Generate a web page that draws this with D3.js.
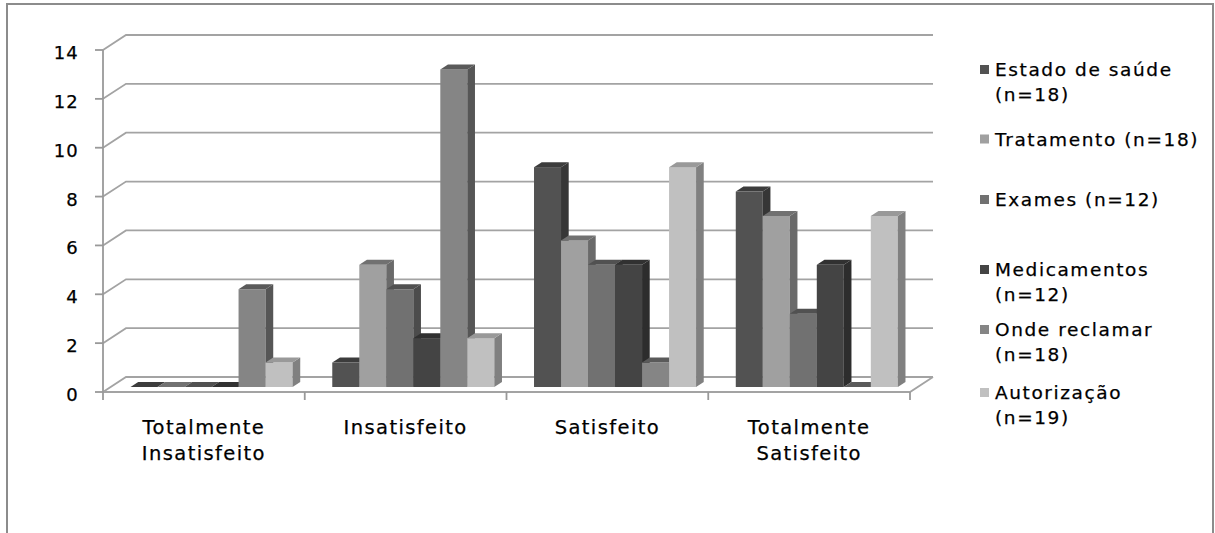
<!DOCTYPE html>
<html>
<head>
<meta charset="utf-8">
<script src="https://cdn.jsdelivr.net/npm/d3@7/dist/d3.min.js"></script>
<style>
  html, body { margin: 0; padding: 0; background: #fff; }
  svg { display: block; }
  text { font-family: "DejaVu Sans", sans-serif; fill: #000; stroke: #000; stroke-width: 0.25px; }
</style>
</head>
<body>
<svg id="chart" width="1215" height="533"></svg>
<script>
// Satisfaction levels (categories) and the six evaluated aspects (series)
const categories = ["Totalmente Insatisfeito", "Insatisfeito", "Satisfeito", "Totalmente Satisfeito"];
const categoryLines = [["Totalmente", "Insatisfeito"], ["Insatisfeito"], ["Satisfeito"], ["Totalmente", "Satisfeito"]];
const seriesNames = ["Estado de saúde", "Tratamento", "Exames", "Medicamentos", "Onde reclamar", "Autorização"];
const legendLines = [
  ["Estado de saúde", "(n=18)"],
  ["Tratamento (n=18)"],
  ["Exames (n=12)"],
  ["Medicamentos", "(n=12)"],
  ["Onde reclamar", "(n=18)"],
  ["Autorização", "(n=19)"]
];
// values[series][category]
const estadoSaude   = [0, 1, 9, 8];
const tratamento    = [0, 5, 6, 7];
const exames        = [0, 4, 5, 3];
const medicamentos  = [0, 2, 5, 5];
const ondeReclamar  = [4, 13, 1, 0];
const autorizacao   = [1, 2, 9, 7];
const seriesValues = [estadoSaude, tratamento, exames, medicamentos, ondeReclamar, autorizacao];
const yTicks = [0, 2, 4, 6, 8, 10, 12, 14];

// face shades per series: front, side, top
const shades = [
  ["#525252", "#363636", "#3c3c3c"],
  ["#a0a0a0", "#6a6a6a", "#717171"],
  ["#717171", "#4c4c4c", "#515151"],
  ["#444444", "#2d2d2d", "#313131"],
  ["#858585", "#565656", "#5a5a5a"],
  ["#c0c0c0", "#808080", "#999999"]
];

const svg = d3.select("#chart");

// outer chart frame
svg.append("rect")
  .attr("x", 7).attr("y", 4).attr("width", 1206).attr("height", 560)
  .attr("fill", "none").attr("stroke", "#8c8c8c").attr("stroke-width", 2);

// plot geometry (front plane) and 3D depth offset
const plotLeft = 103, plotRight = 910, plotBase = 392, plotTop = 50;
const depthX = 23, depthY = -15;

const x0 = d3.scaleBand().domain(categories).range([plotLeft, plotRight]).padding(0);
const x1 = d3.scaleBand().domain(seriesNames).range([0, x0.bandwidth()]).paddingInner(0).paddingOuter(0.735);
const y = d3.scaleLinear().domain([0, 14]).range([plotBase, plotTop]);

const grid = svg.append("g");
// back-wall gridlines with the diagonal step from the axis
yTicks.forEach(t => {
  const yy = y(t);
  grid.append("path")
    .attr("d", `M${plotLeft},${yy} L${plotLeft + depthX},${yy + depthY} L${plotRight + depthX},${yy + depthY}`)
    .attr("fill", "none").attr("stroke", "#a3a3a3").attr("stroke-width", 1.8);
});
// floor outline
grid.append("path")
  .attr("d", `M${plotLeft},${plotBase} L${plotRight},${plotBase} L${plotRight + depthX},${plotBase + depthY}`)
  .attr("fill", "none").attr("stroke", "#a3a3a3").attr("stroke-width", 1.8);

// y axis
const axisG = svg.append("g");
axisG.append("line").attr("x1", plotLeft).attr("x2", plotLeft).attr("y1", plotTop).attr("y2", plotBase)
  .attr("stroke", "#999").attr("stroke-width", 1.8);
yTicks.forEach(t => {
  axisG.append("line").attr("x1", plotLeft - 8).attr("x2", plotLeft).attr("y1", y(t)).attr("y2", y(t))
    .attr("stroke", "#999").attr("stroke-width", 1.8);
  axisG.append("text").attr("x", 79).attr("y", y(t) + 9)
    .attr("text-anchor", "end").attr("font-size", 18).attr("letter-spacing", 1.2)
    .text(t);
});

// category ticks and labels
const catEdges = categories.map(c => x0(c)).concat([plotRight]);
catEdges.forEach(e => {
  axisG.append("line").attr("x1", e).attr("x2", e).attr("y1", plotBase).attr("y2", plotBase + 8)
    .attr("stroke", "#999").attr("stroke-width", 1.8);
});
categories.forEach((c, i) => {
  const cx = x0(c) + x0.bandwidth() / 2;
  const t = axisG.append("text").attr("text-anchor", "middle").attr("font-size", 19.5).attr("letter-spacing", 1.4);
  categoryLines[i].forEach((ln, j) => {
    t.append("tspan").attr("x", cx).attr("y", 434 + j * 26).text(ln);
  });
});

// bars: front face sits one third into the depth, bar depth is one third
const fx = depthX / 3, fy = depthY / 3;
const bars = svg.append("g");
categories.forEach((c, ci) => {
  seriesNames.forEach((s, si) => {
    const v = seriesValues[si][ci];
    const bx0 = x0(c) + x1(s) + fx;
    const bx1 = bx0 + x1.bandwidth();
    const yb = y(0) + fy;
    const yt = y(v) + fy;
    const [front, side, topc] = shades[si];
    const g = bars.append("g");
    if (v > 0) {
      g.append("rect").attr("x", bx0).attr("y", yt).attr("width", bx1 - bx0).attr("height", yb - yt)
        .attr("fill", front);
      g.append("path")
        .attr("d", `M${bx1},${yt} L${bx1 + fx},${yt + fy} L${bx1 + fx},${yb + fy} L${bx1},${yb} Z`)
        .attr("fill", side);
    }
    g.append("path")
      .attr("d", `M${bx0},${yt} L${bx1},${yt} L${bx1 + fx},${yt + fy} L${bx0 + fx},${yt + fy} Z`)
      .attr("fill", topc);
  });
});

// legend
const legendFirstBaselines = [76, 145.5, 206, 276, 336, 399];
const legend = svg.append("g");
legendLines.forEach((lines, i) => {
  const b = legendFirstBaselines[i];
  legend.append("rect").attr("x", 980).attr("y", b - 11).attr("width", 9).attr("height", 9)
    .attr("fill", shades[i][0]);
  const t = legend.append("text").attr("font-size", 18.5).attr("letter-spacing", 1.6);
  lines.forEach((ln, j) => {
    t.append("tspan").attr("x", 995).attr("y", b + j * 25).text(ln);
  });
});
</script>
</body>
</html>
